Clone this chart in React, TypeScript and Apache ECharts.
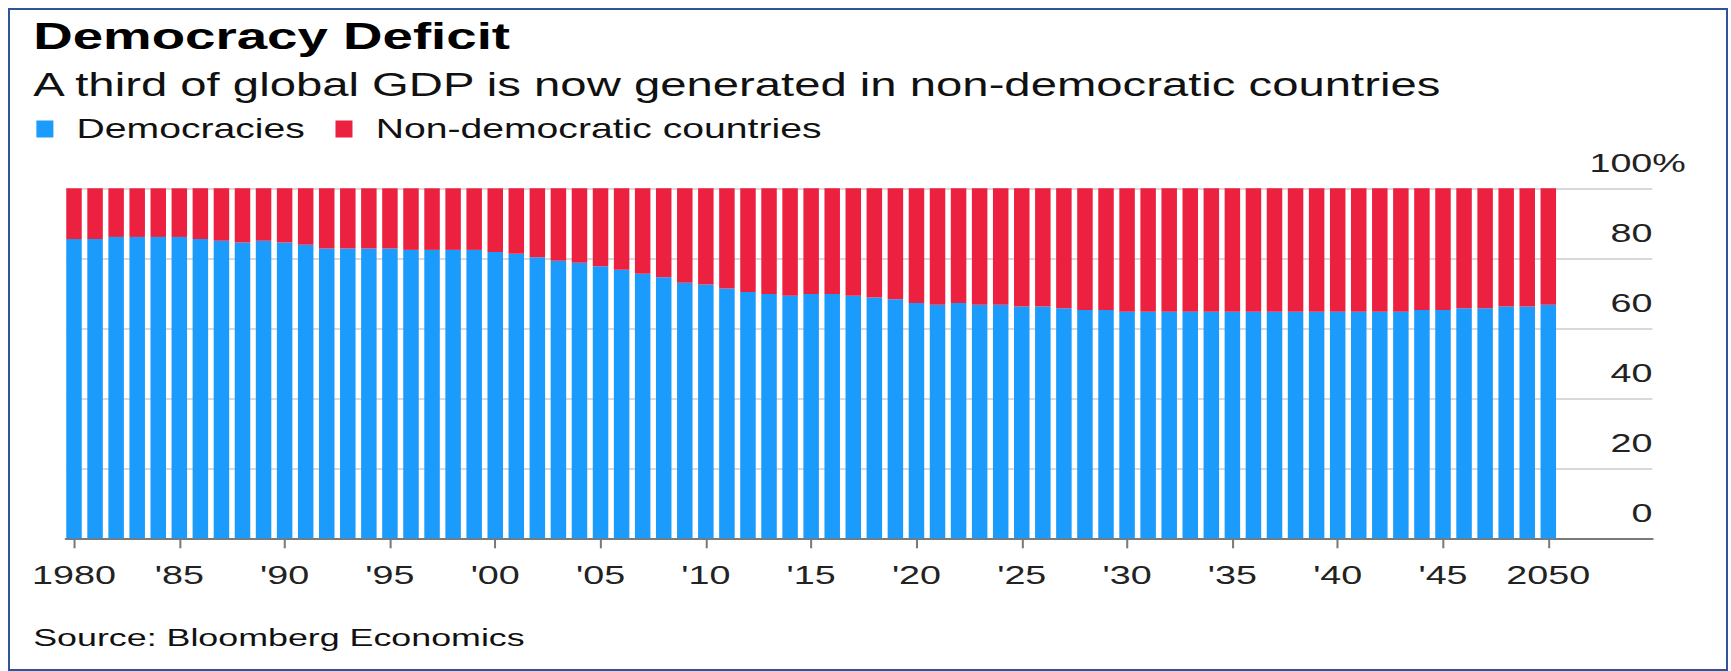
import React, { useEffect, useRef } from "react";
import * as echarts from "echarts";

// Share of global GDP, percent
const years = [
  1980, 1981, 1982, 1983, 1984, 1985, 1986, 1987, 1988, 1989,
  1990, 1991, 1992, 1993, 1994, 1995, 1996, 1997, 1998, 1999,
  2000, 2001, 2002, 2003, 2004, 2005, 2006, 2007, 2008, 2009,
  2010, 2011, 2012, 2013, 2014, 2015, 2016, 2017, 2018, 2019,
  2020, 2021, 2022, 2023, 2024, 2025, 2026, 2027, 2028, 2029,
  2030, 2031, 2032, 2033, 2034, 2035, 2036, 2037, 2038, 2039,
  2040, 2041, 2042, 2043, 2044, 2045, 2046, 2047, 2048, 2049,
  2050,
];

const democracies = [
  85.5, 85.5, 86.1, 86.1, 86.1, 86.1, 85.5, 85.0, 84.5, 85.0,
  84.5, 83.9, 82.8, 82.8, 82.8, 82.8, 82.4, 82.4, 82.4, 82.4,
  81.8, 81.3, 80.3, 79.3, 78.7, 77.7, 76.7, 75.6, 74.6, 73.0,
  72.5, 71.4, 70.4, 69.8, 69.3, 69.8, 69.8, 69.3, 68.8, 68.3,
  67.2, 66.7, 67.2, 66.7, 66.7, 66.2, 66.2, 65.7, 65.2, 65.2,
  64.7, 64.7, 64.7, 64.7, 64.7, 64.7, 64.7, 64.7, 64.7, 64.7,
  64.7, 64.7, 64.7, 64.7, 65.2, 65.2, 65.7, 65.7, 66.2, 66.2,
  66.7,
];

const nonDemocratic = [
  14.5, 14.5, 13.9, 13.9, 13.9, 13.9, 14.5, 15.0, 15.5, 15.0,
  15.5, 16.1, 17.2, 17.2, 17.2, 17.2, 17.6, 17.6, 17.6, 17.6,
  18.2, 18.7, 19.7, 20.7, 21.3, 22.3, 23.3, 24.4, 25.4, 27.0,
  27.5, 28.6, 29.6, 30.2, 30.7, 30.2, 30.2, 30.7, 31.2, 31.7,
  32.8, 33.3, 32.8, 33.3, 33.3, 33.8, 33.8, 34.3, 34.8, 34.8,
  35.3, 35.3, 35.3, 35.3, 35.3, 35.3, 35.3, 35.3, 35.3, 35.3,
  35.3, 35.3, 35.3, 35.3, 34.8, 34.8, 34.3, 34.3, 33.8, 33.8,
  33.3,
];

const tickYears = [1980, 1985, 1990, 1995, 2000, 2005, 2010, 2015, 2020, 2025, 2030, 2035, 2040, 2045, 2050];
const tickLabels = ["1980", "'85", "'90", "'95", "'00", "'05", "'10", "'15", "'20", "'25", "'30", "'35", "'40", "'45", "2050"];

const FONT = "'Liberation Sans', Arial, Helvetica, sans-serif";
const BLUE = "#1b9bfb";
const RED = "#ec2140";
const STRETCH = 1.45; // horizontal stretch of the whole graphic
const INNER_W = 1716 / STRETCH;
const INNER_H = 659;
const AXIS_FONT = 26;
const PCT_W = 0.889 * AXIS_FONT;

export default function App() {
  const ref = useRef<HTMLDivElement>(null);

  useEffect(() => {
    if (!ref.current) return;
    const chart = echarts.init(ref.current, null, { renderer: "svg" });

    // value first so that the share (not the year) is the stacked dimension
    const rows = (values: number[]) => years.map((y, i) => [values[i], y]);

    const option = {
      animation: false,
      textStyle: { fontFamily: FONT },
      title: [
        {
          text: "Democracy Deficit",
          left: 16,
          top: 6,
          padding: 0,
          textStyle: { fontFamily: FONT, fontSize: 37.7, fontWeight: "bold", color: "#000", lineHeight: 40 },
        },
        {
          text: "A third of global GDP is now generated in non-democratic countries",
          left: 16,
          top: 57,
          padding: 0,
          textStyle: { fontFamily: FONT, fontSize: 32.6, fontWeight: "normal", color: "#111", lineHeight: 36 },
        },
        {
          text: "Source: Bloomberg Economics",
          left: 16,
          top: 614,
          padding: 0,
          textStyle: { fontFamily: FONT, fontSize: 24.7, fontWeight: "normal", color: "#111", lineHeight: 28 },
        },
      ],
      legend: {
        left: 18.2,
        top: 104,
        padding: 0,
        icon: "rect",
        itemWidth: 17 / STRETCH,
        itemHeight: 17,
        itemGap: 21,
        selectedMode: false,
        data: ["Democracies", "Non-democratic countries"],
        textStyle: { fontFamily: FONT, fontSize: 27, color: "#111", lineHeight: 30, padding: [0, 0, 0, 11] },
      },
      grid: {
        left: 38.62,
        right: INNER_W - 1133.1,
        top: 178.3,
        bottom: INNER_H - 528.3,
        outerBoundsMode: "none",
      },
      xAxis: {
        type: "value",
        min: 1979.62,
        max: 2054.94,
        splitLine: { show: false },
        axisLine: { show: true, onZero: false, lineStyle: { color: "#7a7a7a", width: 2 } },
        axisTick: {
          show: true,
          customValues: tickYears,
          length: 10,
          lineStyle: { color: "#7a7a7a", width: 1.4 },
        },
        axisLabel: {
          customValues: tickYears,
          margin: 24,
          fontFamily: FONT,
          fontSize: AXIS_FONT,
          color: "#222",
          formatter: (v: number) => {
            const i = tickYears.indexOf(Math.round(v));
            return i >= 0 ? tickLabels[i] : "";
          },
        },
      },
      yAxis: {
        type: "value",
        position: "right",
        min: 0,
        max: 100,
        interval: 20,
        axisLine: { show: false },
        axisTick: { show: false },
        splitLine: { show: true, lineStyle: { color: "#d9d9d9", width: 2 } },
        axisLabel: {
          inside: true,
          align: "right",
          verticalAlign: "middle",
          margin: -PCT_W,
          padding: [0, 0, 51, 0],
          formatter: (v: number) => (v === 100 ? "{n|100}{n|%}" : `{p|${v}}`),
          rich: {
            n: { fontFamily: FONT, fontSize: AXIS_FONT, color: "#222" },
            p: { fontFamily: FONT, fontSize: AXIS_FONT, color: "#222", padding: [0, PCT_W, 0, 0] },
          },
        },
      },
      series: [
        {
          name: "Democracies",
          type: "bar",
          stack: "gdp",
          barWidth: 15.5 / STRETCH,
          itemStyle: { color: BLUE },
          encode: { x: 1, y: 0 },
          data: rows(democracies),
        },
        {
          name: "Non-democratic countries",
          type: "bar",
          stack: "gdp",
          barWidth: 15.5 / STRETCH,
          itemStyle: { color: RED },
          encode: { x: 1, y: 0 },
          data: rows(nonDemocratic),
        },
      ],
    };

    chart.setOption(option as any);
    return () => chart.dispose();
  }, []);

  return (
    <div
      style={{
        position: "absolute",
        left: 8,
        top: 8,
        width: 1720,
        height: 663,
        border: "2px solid #2f5597",
        boxSizing: "border-box",
        overflow: "hidden",
        background: "#fff",
      }}
    >
      <div
        ref={ref}
        style={{
          position: "absolute",
          left: 0,
          top: 0,
          width: INNER_W,
          height: INNER_H,
          transform: `scaleX(${STRETCH})`,
          transformOrigin: "0 0",
        }}
      />
    </div>
  );
}
